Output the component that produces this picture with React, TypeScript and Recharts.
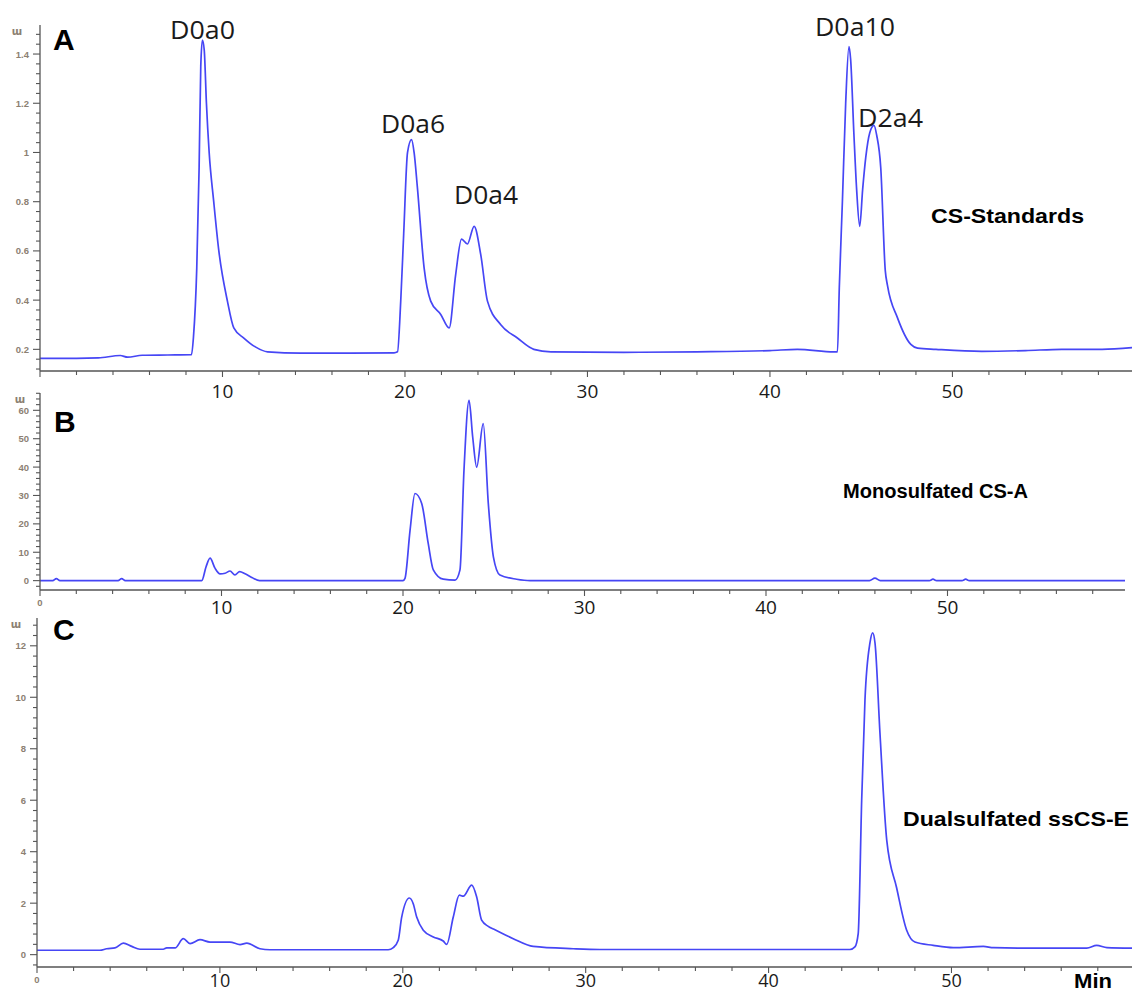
import React from 'react';
import { LineChart, Line, XAxis, YAxis } from 'recharts';

// retention time (min) / signal for each chromatogram
const timeA = [0, 2.0, 3.2, 4.4, 4.8, 5.6, 7.0, 8.3, 8.41, 8.59, 8.72, 8.81, 8.9, 9.0, 9.12, 9.27, 9.52, 9.8, 10.27, 10.62, 11.17, 11.8, 12.47, 14.3, 17.0, 19.4, 19.59, 19.77, 19.93, 20.14, 20.36, 20.5, 20.68, 21.05, 21.41, 21.96, 22.42, 22.78, 23.1, 23.42, 23.79, 24.15, 24.52, 25.25, 26.16, 27.06, 28.0, 32, 36, 40, 41.5, 43.5, 43.7, 43.8, 43.97, 44.15, 44.33, 44.42, 44.6, 44.75, 44.92, 45.08, 45.25, 45.47, 45.7, 45.85, 46.07, 46.32, 46.44, 46.99, 47.72, 48.09, 49.1, 51.6, 54, 56, 58.2, 59.84];
const absA = [0.163, 0.163, 0.165, 0.175, 0.168, 0.176, 0.177, 0.178, 0.25, 0.53, 0.94, 1.35, 1.457, 1.416, 1.2, 1.0, 0.8, 0.6, 0.396, 0.287, 0.246, 0.21, 0.19, 0.185, 0.185, 0.186, 0.19, 0.4, 0.67, 1.0, 1.052, 1.0, 0.858, 0.53, 0.396, 0.342, 0.287, 0.505, 0.648, 0.628, 0.7, 0.586, 0.396, 0.3, 0.246, 0.2, 0.19, 0.188, 0.19, 0.195, 0.2, 0.19, 0.19, 0.45, 0.8, 1.2, 1.43, 1.38, 1.076, 0.85, 0.7, 0.85, 0.98, 1.08, 1.11, 1.07, 0.94, 0.52, 0.46, 0.328, 0.22, 0.205, 0.2, 0.192, 0.195, 0.2, 0.2, 0.207];

const timeB = [0, 0.7, 0.9, 1.1, 4.3, 4.5, 4.7, 8.91, 9.15, 9.37, 9.64, 9.92, 10.2, 10.47, 10.74, 11.0, 11.3, 11.7, 12.1, 20.0, 20.11, 20.39, 20.66, 21.03, 21.39, 21.67, 22.22, 22.87, 23.14, 23.36, 23.64, 23.84, 24.06, 24.42, 24.7, 24.98, 25.34, 26.26, 27.0, 45.7, 46.0, 46.3, 49.0, 49.2, 49.4, 50.8, 51.0, 51.2, 59.78];
const absB = [0, 0, 0.7, 0, 0, 0.7, 0, 0, 4.9, 7.9, 4.4, 2.4, 2.6, 3.4, 2.0, 3.2, 2.4, 1.0, 0, 0, 0.8, 17.8, 30.7, 27.2, 13.1, 3.8, 0.5, 0.2, 3.8, 38.9, 63.5, 50.6, 40, 55.3, 27.2, 8.4, 2.0, 0.5, 0, 0, 0.9, 0, 0, 0.5, 0, 0, 0.5, 0, 0];

const timeC = [0, 3.44, 3.81, 4.26, 4.72, 5.18, 5.63, 6.9, 7.09, 7.55, 8.0, 8.37, 8.91, 9.46, 10.55, 11.1, 11.47, 12.19, 12.74, 19.2, 19.48, 19.75, 19.94, 20.36, 20.57, 20.76, 21.12, 21.67, 22.21, 22.4, 22.76, 23.09, 23.31, 23.77, 24.04, 24.31, 24.67, 25.04, 26.04, 27.13, 29.32, 30.78, 44.45, 44.72, 44.9, 45.09, 45.27, 45.54, 45.69, 45.82, 46.09, 46.46, 47.0, 47.55, 48.0, 49.0, 50.1, 51.74, 52.3, 54.1, 57.4, 57.94, 58.5, 59.87];
const absC = [0.17, 0.17, 0.23, 0.26, 0.45, 0.32, 0.21, 0.21, 0.26, 0.26, 0.62, 0.43, 0.58, 0.49, 0.49, 0.39, 0.45, 0.23, 0.19, 0.19, 0.27, 0.56, 1.46, 2.2, 1.98, 1.46, 0.95, 0.69, 0.53, 0.4, 1.46, 2.31, 2.27, 2.7, 2.24, 1.34, 1.1, 0.97, 0.62, 0.32, 0.23, 0.2, 0.2, 0.3, 0.82, 6.0, 9.9, 12.1, 12.5, 12.1, 8.6, 4.45, 2.6, 0.95, 0.49, 0.36, 0.27, 0.32, 0.27, 0.25, 0.25, 0.36, 0.27, 0.25];

// axis ticks
const xMajor = [0, 10, 20, 30, 40, 50];
const xTicks = [0, 2, 4, 6, 8, 10, 12, 14, 16, 18, 20, 22, 24, 26, 28, 30, 32, 34, 36, 38, 40, 42, 44, 46, 48, 50, 52, 54, 56, 58];
const yMajorA = [0.2, 0.4, 0.6, 0.8, 1, 1.2, 1.4];
const yMajorB = [0, 10, 20, 30, 40, 50, 60];
const yMajorC = [0, 2, 4, 6, 8, 10, 12];

const LINE = '#4646f5';
const AXIS = '#555';

const rows = (t: number[], v: number[]) => t.map((x, i) => ({ t: x, v: v[i] }));

const minorTicks = (lo: number, hi: number, step: number) => {
  const out: number[] = [];
  for (let k = Math.ceil(lo / step - 1e-9); k * step <= hi + 1e-9; k++) out.push(Math.round(k * step * 1000) / 1000);
  return out;
};

const isMajor = (list: number[], v: number) => list.some(m => Math.abs(m - v) < 1e-6);

function YTick(props: any) {
  const { x, y, payload, majors } = props;
  const major = isMajor(majors, payload.value);
  return (
    <g>
      <line x1={x - (major ? 7 : 4)} x2={x} y1={y} y2={y} stroke={AXIS} strokeWidth={1.1} />
      {major && (
        <text x={x - 11} y={y + 3.5} textAnchor="end" fontSize={9.5} fontWeight="bold" fill="#8c8072"
          fontFamily="'Liberation Sans', Arial, sans-serif">{String(payload.value)}</text>
      )}
    </g>
  );
}

function XTick(props: any) {
  const { x, y, payload, labelDy, labelSize, smallZero } = props;
  const v = payload.value;
  const major = isMajor(xMajor, v);
  let label: React.ReactNode = null;
  if (v === 0) {
    if (smallZero) label = (
      <text x={x} y={y + 16} textAnchor="middle" fontSize={9.5} fontWeight="bold" fill="#8c8072"
        fontFamily="'Liberation Sans', Arial, sans-serif">0</text>
    );
  } else if (major) {
    label = (
      <text x={x} y={y + labelDy} textAnchor="middle" fontSize={labelSize} fill="#1a1a1a"
        fontFamily="'Open Sans', sans-serif">{v}</text>
    );
  }
  return (
    <g>
      <line x1={x} x2={x} y1={y} y2={y + (major ? 6 : 4)} stroke={AXIS} strokeWidth={1.1} />
      {label}
    </g>
  );
}

interface PanelProps {
  top: number;
  height: number;
  marginTop: number;
  marginRight: number;
  axisW: number;
  xAxisH: number;
  xMax: number;
  yDomain: [number, number];
  yMajor: number[];
  yStep: number;
  data: { t: number; v: number }[];
  labelDy: number;
  labelSize: number;
  smallZero: boolean;
}

function Panel(p: PanelProps) {
  const yTicks = minorTicks(p.yDomain[0], p.yDomain[1], p.yStep);
  return (
    <div style={{ position: 'absolute', left: 0, top: p.top }}>
      <LineChart width={1132} height={p.height} data={p.data}
        margin={{ top: p.marginTop, right: p.marginRight, bottom: 0, left: 0 }}>
        <XAxis dataKey="t" type="number" domain={[0, p.xMax]} allowDataOverflow ticks={xTicks} interval={0}
          height={p.xAxisH} tickSize={0} tickMargin={0} tickLine={false}
          axisLine={{ stroke: AXIS, strokeWidth: 1.3 }}
          tick={(tp: any) => <XTick {...tp} labelDy={p.labelDy} labelSize={p.labelSize} smallZero={p.smallZero} />} />
        <YAxis type="number" domain={p.yDomain} allowDataOverflow ticks={yTicks} interval={0}
          width={p.axisW} tickSize={0} tickMargin={0} tickLine={false}
          axisLine={{ stroke: AXIS, strokeWidth: 1.3 }}
          tick={(tp: any) => <YTick {...tp} majors={p.yMajor} />} />
        <Line type="monotone" dataKey="v" stroke={LINE} strokeWidth={1.7} dot={false} isAnimationActive={false} />
      </LineChart>
    </div>
  );
}

const sans = "'Liberation Sans', Arial, sans-serif";
const peakFont = "'Open Sans', sans-serif";

export default function App() {
  return (
    <div style={{ position: 'absolute', left: 0, top: 0, width: 1132, height: 994, background: '#fff', overflow: 'hidden' }}>
      <Panel top={0} height={411} marginTop={25} marginRight={0} axisW={40} xAxisH={40} xMax={59.84}
        yDomain={[0.112, 1.518]} yMajor={yMajorA} yStep={0.04} data={rows(timeA, absA)} labelDy={27} labelSize={19} smallZero={false} />
      <Panel top={380} height={250} marginTop={13} marginRight={7} axisW={40} xAxisH={40} xMax={59.78}
        yDomain={[-3.3, 66.1]} yMajor={yMajorB} yStep={2} data={rows(timeB, absB)} labelDy={24} labelSize={19} smallZero={true} />
      <Panel top={600} height={394} marginTop={18} marginRight={0} axisW={37} xAxisH={27} xMax={59.87}
        yDomain={[-0.48, 13.08]} yMajor={yMajorC} yStep={0.4} data={rows(timeC, absC)} labelDy={20} labelSize={18} smallZero={true} />
      <svg width={1132} height={994} style={{ position: 'absolute', left: 0, top: 0, pointerEvents: 'none' }}>
        {/* unit glyphs */}
        <text x={17} y={35} textAnchor="middle" fontSize={10} fontWeight="bold" fill="#8c8072" fontFamily="'DejaVu Sans', sans-serif">ɯ</text>
        <text x={20} y={403} textAnchor="middle" fontSize={10} fontWeight="bold" fill="#8c8072" fontFamily="'DejaVu Sans', sans-serif">ɯ</text>
        <text x={16} y={628} textAnchor="middle" fontSize={10} fontWeight="bold" fill="#8c8072" fontFamily="'DejaVu Sans', sans-serif">ɯ</text>
        {/* panel letters */}
        <text x={53} y={50} fontSize={30} fontWeight="bold" fontFamily={sans} fill="#000">A</text>
        <text x={54} y={432} fontSize={30} fontWeight="bold" fontFamily={sans} fill="#000">B</text>
        <text x={53} y={640} fontSize={30} fontWeight="bold" fontFamily={sans} fill="#000">C</text>
        {/* peak labels */}
        <text x={170} y={39} fontSize={25} fontFamily={peakFont} fill="#1a1a1a" textLength={65} lengthAdjust="spacingAndGlyphs">D0a0</text>
        <text x={381} y={133} fontSize={25} fontFamily={peakFont} fill="#1a1a1a" textLength={64} lengthAdjust="spacingAndGlyphs">D0a6</text>
        <text x={454} y={204} fontSize={25} fontFamily={peakFont} fill="#1a1a1a" textLength={64} lengthAdjust="spacingAndGlyphs">D0a4</text>
        <text x={815} y={36} fontSize={25} fontFamily={peakFont} fill="#1a1a1a" textLength={80} lengthAdjust="spacingAndGlyphs">D0a10</text>
        <text x={858} y={127} fontSize={25} fontFamily={peakFont} fill="#1a1a1a" textLength={65} lengthAdjust="spacingAndGlyphs">D2a4</text>
        {/* sample names */}
        <text x={931} y={223} fontSize={20} fontWeight="bold" fontFamily={sans} fill="#000" textLength={153} lengthAdjust="spacingAndGlyphs">CS-Standards</text>
        <text x={843} y={498} fontSize={20} fontWeight="bold" fontFamily={sans} fill="#000" textLength={185} lengthAdjust="spacingAndGlyphs">Monosulfated CS-A</text>
        <text x={903} y={826} fontSize={21} fontWeight="bold" fontFamily={sans} fill="#000" textLength={226} lengthAdjust="spacingAndGlyphs">Dualsulfated ssCS-E</text>
        <text x={1074} y={988} fontSize={21} fontWeight="bold" fontFamily={sans} fill="#000" textLength={38} lengthAdjust="spacingAndGlyphs">Min</text>
      </svg>
    </div>
  );
}
